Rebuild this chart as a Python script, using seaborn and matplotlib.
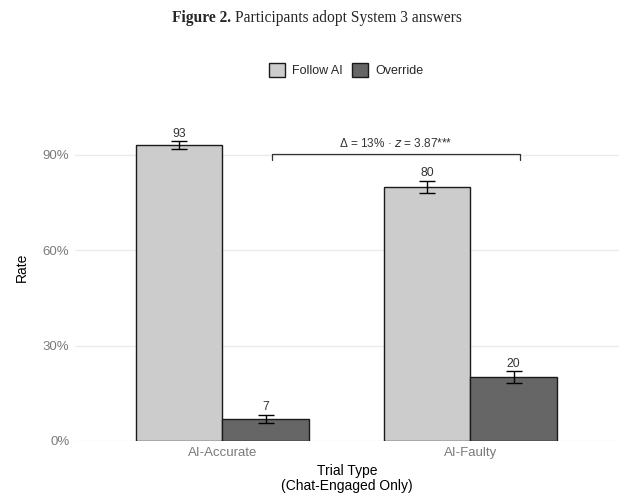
import seaborn as sns
import matplotlib
matplotlib.use("Agg")
import matplotlib.pyplot as plt
import pandas as pd

# data
trial_types = ["AI-Accurate", "AI-Faulty"]
responses = ["Follow AI", "Override"]
follow_rate = [93, 80]
override_rate = [7, 20]
follow_err = [1.3, 1.9]
override_err = [1.2, 1.9]
bracket_text = "Δ = 13% · $z$ = 3.87***"

df = pd.DataFrame({
    "trial": trial_types * 2,
    "response": ["Follow AI"] * 2 + ["Override"] * 2,
    "rate": follow_rate + override_rate,
    "err": follow_err + override_err,
})

sns.set_style("white")
plt.rcParams["font.family"] = ["Liberation Sans", "DejaVu Sans"]

fig = plt.figure(figsize=(6.19, 5.03), dpi=100)
ax = fig.add_axes([0.121, 0.1233, 0.879, 0.692])

sns.barplot(data=df, x="trial", y="rate", hue="response",
            palette=["#cccccc", "#666666"], width=0.7,
            edgecolor="#1a1a1a", linewidth=1, errorbar=None,
            legend=False, ax=ax, zorder=3)

# error bars + value labels, placed on the seaborn bars
for cont, hue in zip(ax.containers, responses):
    sub = df[df.response == hue]
    for bar, val, err in zip(cont, sub.rate, sub.err):
        xc = bar.get_x() + bar.get_width() / 2
        ax.errorbar(xc, val, yerr=err, color="black", capsize=6,
                    elinewidth=1, capthick=1, zorder=4)
        ax.text(xc, val + err + 0.5, f"{val:.0f}", ha="center", va="bottom",
                fontsize=8.8, color="#333333")

# bracket between groups
bx0, bx1, by = 0.2, 1.2, 90.3
ax.plot([bx0, bx0, bx1, bx1], [by - 2, by, by, by - 2], color="#333333", lw=0.9)
ax.text((bx0 + bx1) / 2, by + 1.2, bracket_text, ha="center", va="bottom",
        fontsize=8.5, color="#333333")

ax.set_ylim(0, 109.5)
ax.set_xlim(-0.595, 1.6)
ax.set_yticks([0, 30, 60, 90])
ax.set_yticklabels(["0%", "30%", "60%", "90%"])
ax.yaxis.grid(True, color="#ebebeb", lw=1, zorder=0)
ax.set_axisbelow(True)
ax.tick_params(axis="both", length=0, labelsize=9.5, labelcolor="#7a7a7a", pad=4)
for s in ax.spines.values():
    s.set_visible(False)
ax.set_ylabel("Rate", fontsize=10, color="black", labelpad=10)
ax.set_xlabel("Trial Type\n(Chat-Engaged Only)", fontsize=10, color="black",
              linespacing=1.05, labelpad=4)

handles = [plt.Rectangle((0, 0), 1, 1, facecolor=c, edgecolor="#1a1a1a", lw=1)
           for c in ["#cccccc", "#666666"]]
fig.legend(handles, responses, loc="center", bbox_to_anchor=(0.559, 0.861),
           ncol=2, frameon=False, fontsize=9, handlelength=1.3,
           handleheight=1.3, handletextpad=0.6, columnspacing=0.7)

# title: bold "Figure 2." then regular text, in a serif face
t1 = fig.text(0.278, 0.964, "Figure 2.", ha="left", va="center",
              fontsize=11.2, family="Liberation Serif", weight="bold")
fig.canvas.draw()
bb = t1.get_window_extent().transformed(fig.transFigure.inverted())
fig.text(bb.x1 + 0.006, 0.964, "Participants adopt System 3 answers",
         ha="left", va="center", fontsize=11.2, family="Liberation Serif")

fig.savefig("out.png", dpi=100)
